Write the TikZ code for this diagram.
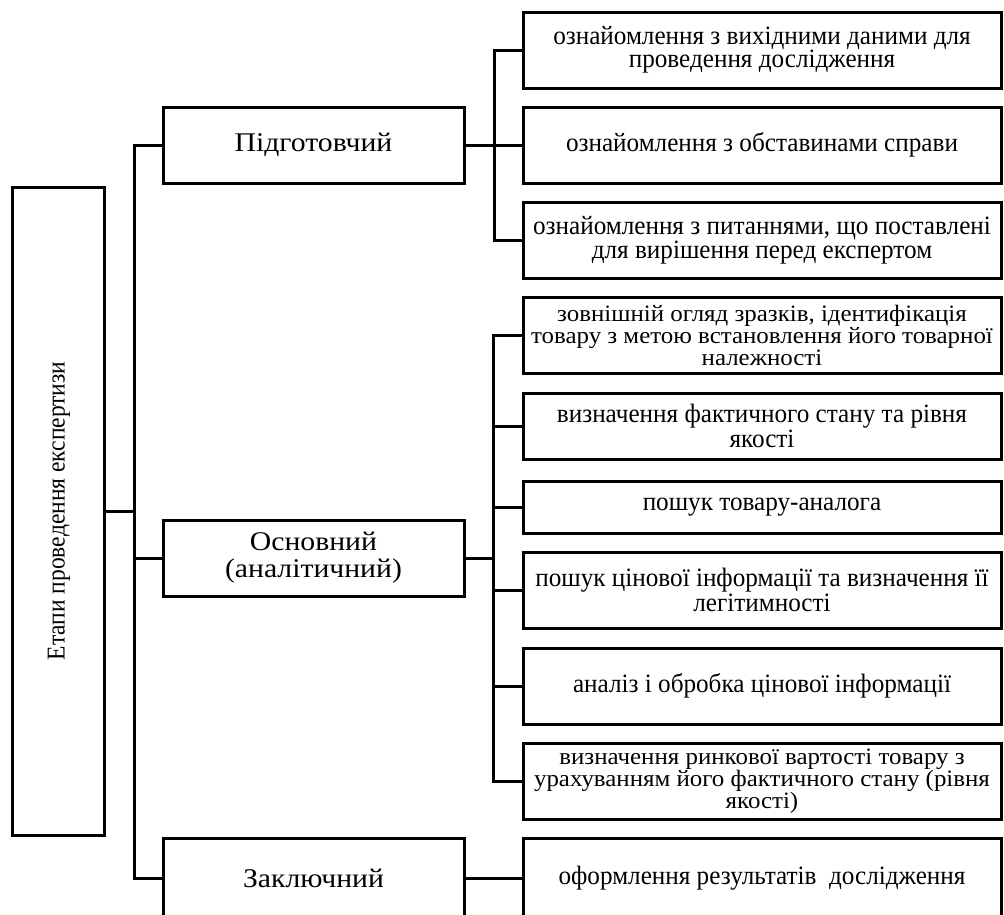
\documentclass[tikz,border=0pt]{standalone}
\usepackage{fontspec}
\setmainfont{Liberation Serif}
\newfontfamily\boxfont[FakeStretch=0.95]{Liberation Serif}
\newfontfamily\triboxfont[FakeStretch=1.06]{Liberation Serif}
\newfontfamily\stagefont[FakeStretch=1.1]{Liberation Serif}
\newfontfamily\sidefont[FakeStretch=0.915]{Liberation Serif}
\begin{document}
\begin{tikzpicture}[x=1pt,y=-1pt,
  box/.style={draw=black,line width=3pt,inner sep=0pt,outer sep=0pt,anchor=north west,
    align=center,font=\boxfont\fontsize{26.5}{23}\selectfont},
  tribox/.style={box,font=\triboxfont\fontsize{23.5}{22}\selectfont},
  stage/.style={box,font=\stagefont\fontsize{27}{27}\selectfont},
  conn/.style={draw=black,line width=3pt,line cap=rect}]
\useasboundingbox (0,0) rectangle (1004,914);
% left box
\node[box,minimum width=92pt,minimum height=648pt] (L) at (12,187) {};
\node[rotate=90,font=\sidefont\fontsize{25.7}{21.5}\selectfont] (Lt) at ([xshift=1pt]L.center) {Етапи проведення експертизи};
% stage boxes
\node[stage,minimum width=301pt,minimum height=76pt] (P1) at (163,107) {Підготовчий};
\node[stage,minimum width=301pt,minimum height=76pt] (P2) at (163,520) {Основний\\(аналітичний)};
\node[stage,minimum width=301pt,minimum height=80pt] (P3) at (163,838) {Заключний};
% right boxes
\node[box,minimum width=478pt,minimum height=76pt] (r1) at (523,12) {ознайомлення з вихідними даними для\\проведення дослідження};
\node[box,minimum width=478pt,minimum height=76pt] (r2) at (523,107) {ознайомлення з обставинами справи};
\node[box,minimum width=478pt,minimum height=76pt] (r3) at (523,202) {ознайомлення з питаннями, що поставлені\\для вирішення перед експертом};
\node[tribox,minimum width=478pt,minimum height=76pt] (r4) at (523,297) {зовнішній огляд зразків, ідентифікація\\товару з метою встановлення його товарної\\належності};
\node[box,minimum width=478pt,minimum height=66pt] (r5) at (523,393) {визначення фактичного стану та рівня\\якості};
\node[box,minimum width=478pt,minimum height=52pt] (r6) at (523,481) {пошук товару-аналога};
\node[box,minimum width=478pt,minimum height=76pt] (r7) at (523,552) {пошук цінової інформації та визначення її\\легітимності};
\node[box,minimum width=478pt,minimum height=76pt] (r8) at (523,648) {аналіз і обробка цінової інформації};
\node[tribox,minimum width=478pt,minimum height=76pt] (r9) at (523,743) {визначення ринкової вартості товару з\\урахуванням його фактичного стану (рівня\\якості)};
\node[box,minimum width=478pt,minimum height=80pt] (r10) at (523,838) {оформлення результатів\ \ дослідження};
% connectors: level 1
\coordinate (a) at (134,0);
\draw[conn] (L.east) -- (L.east -| a);
\draw[conn] (a |- P1.west) -- (P1.west);
\draw[conn] (a |- P3.west) -- (P3.west);
\draw[conn] (a |- P1.west) -- (a |- P3.west);
\draw[conn] (a |- P2.west) -- (P2.west);
% group 1
\coordinate (b) at (494,0);
\draw[conn] (P1.east) -- (r2.west);
\draw[conn] (b |- r1.west) -- (r1.west);
\draw[conn] (b |- r3.west) -- (r3.west);
\draw[conn] (b |- r1.west) -- (b |- r3.west);
% group 2
\coordinate (c) at (493,0);
\draw[conn] (P2.east) -- (P2.east -| c);
\draw[conn] (c |- r4.west) -- (c |- r9.west);
\foreach \n in {r4,r5,r6,r7,r8,r9} \draw[conn] (c |- \n.west) -- (\n.west);
% group 3
\draw[conn] (P3.east) -- (r10.west);
\end{tikzpicture}
\end{document}
